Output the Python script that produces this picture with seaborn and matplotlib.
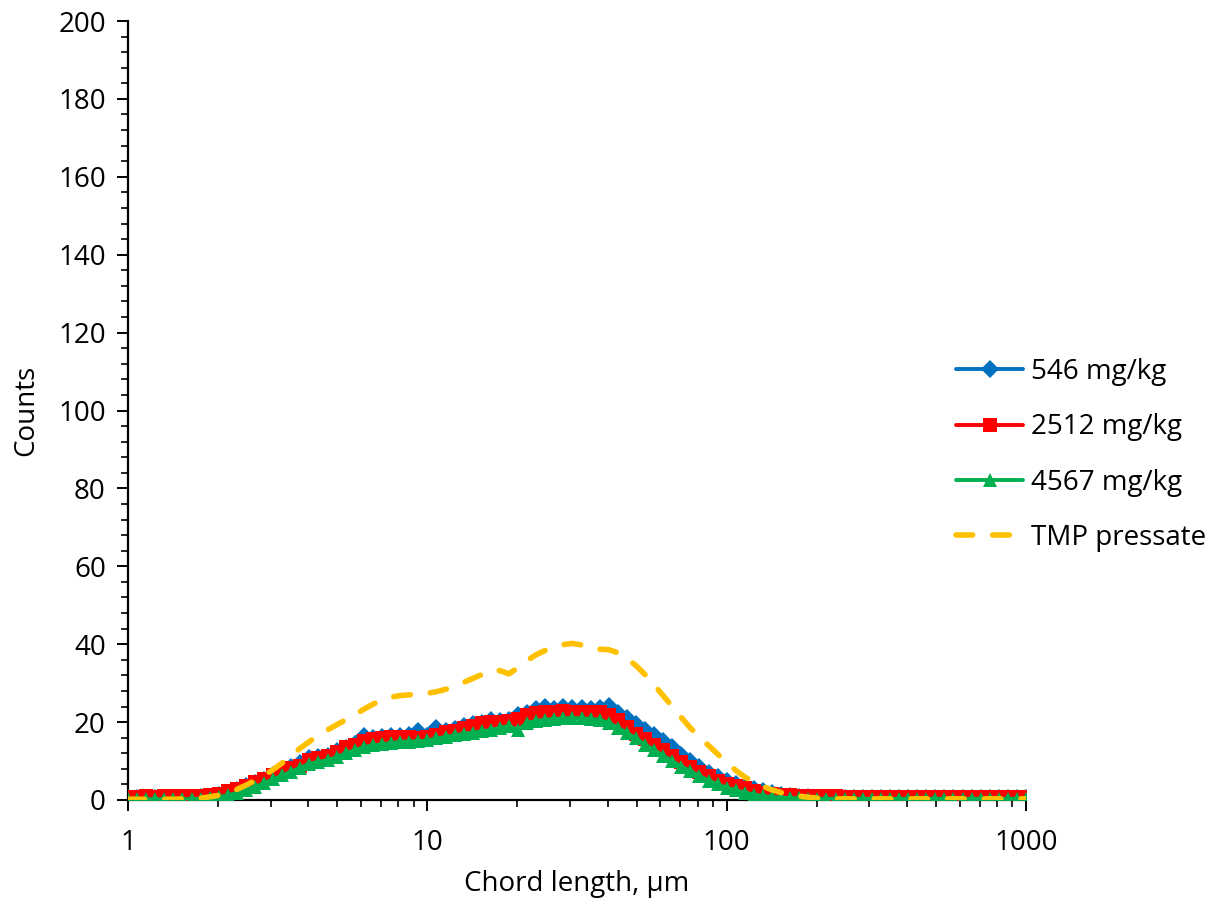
import matplotlib
matplotlib.use("Agg")
import matplotlib.pyplot as plt
from matplotlib.ticker import FixedLocator, MultipleLocator, NullFormatter
import pandas as pd
import seaborn as sns

# Chord-length channels (µm), logarithmically spaced, 33 per decade
chord_um = [
    1.000, 1.072, 1.150, 1.233, 1.322, 1.418, 1.520, 1.630, 1.748, 1.874,
    2.009, 2.154, 2.310, 2.477, 2.656, 2.848, 3.054, 3.275, 3.511, 3.765,
    4.037, 4.329, 4.642, 4.977, 5.337, 5.722, 6.136, 6.579, 7.055, 7.565,
    8.111, 8.697, 9.326, 10.00, 10.72, 11.50, 12.33, 13.22, 14.18, 15.20,
    16.30, 17.48, 18.74, 20.09, 21.54, 23.10, 24.77, 26.56, 28.48, 30.54,
    32.75, 35.11, 37.65, 40.37, 43.29, 46.42, 49.77, 53.37, 57.22, 61.36,
    65.79, 70.55, 75.65, 81.11, 86.97, 93.26, 100.0, 107.2, 115.0, 123.3,
    132.2, 141.8, 152.0, 163.0, 174.8, 187.4, 200.9, 215.4, 231.0, 247.7,
    265.6, 284.8, 305.4, 327.5, 351.1, 376.5, 403.7, 432.9, 464.2, 497.7,
    533.7, 572.2, 613.6, 657.9, 705.5, 756.5, 811.1, 869.7, 932.6, 1000.0,
]

counts_546 = [
    0.5, 0.5, 0.5, 0.5, 0.5, 0.5, 0.6, 0.6, 0.7, 0.8,
    1.2, 1.9, 2.6, 3.5, 4.4, 5.2, 6.4, 7.5, 8.6, 9.6,
    10.8, 11.0, 11.4, 12.6, 13.4, 14.3, 16.5, 15.8, 16.2, 16.4,
    16.4, 16.6, 17.8, 16.5, 18.4, 17.6, 18.2, 19.0, 19.4, 19.8,
    20.5, 20.4, 20.6, 21.8, 22.4, 23.4, 23.8, 23.4, 23.8, 23.5,
    23.7, 23.4, 23.6, 24.2, 22.4, 21.0, 19.4, 18.0, 16.8, 15.2,
    13.6, 11.6, 10.0, 8.4, 7.0, 6.0, 5.0, 4.2, 3.4, 2.8,
    2.2, 1.7, 1.3, 1.0, 0.8, 0.7, 0.6, 0.5, 0.5, 0.5,
    0.5, 0.5, 0.5, 0.5, 0.5, 0.5, 0.5, 0.5, 0.5, 0.5,
    0.5, 0.5, 0.5, 0.5, 0.5, 0.5, 0.5, 0.5, 0.5, 0.5,
]

counts_2512 = [
    0.8, 0.8, 0.9, 0.8, 0.9, 0.9, 1.0, 1.0, 1.1, 1.2,
    1.6, 2.2, 2.8, 3.7, 4.5, 5.3, 6.3, 7.3, 8.3, 8.8,
    10.2, 10.9, 11.2, 12.3, 13.6, 14.1, 15.2, 15.6, 16.0, 16.3,
    16.2, 16.1, 16.0, 16.3, 16.6, 17.4, 17.8, 18.5, 19.0, 19.7,
    20.0, 20.0, 20.3, 20.8, 21.8, 22.3, 22.6, 22.7, 22.8, 22.6,
    22.7, 22.6, 22.5, 21.8, 20.6, 18.8, 17.0, 15.6, 14.0, 12.8,
    11.3, 9.8, 8.6, 7.2, 6.2, 5.0, 4.2, 3.6, 3.0, 2.4,
    1.9, 1.6, 1.3, 1.2, 1.1, 1.0, 0.9, 0.9, 0.9, 0.8,
    0.8, 0.8, 0.8, 0.8, 0.8, 0.8, 0.8, 0.8, 0.8, 0.8,
    0.8, 0.8, 0.8, 0.8, 0.8, 0.8, 0.8, 0.8, 0.8, 0.8,
]

counts_4567 = [
    0.2, 0.2, 0.2, 0.2, 0.2, 0.2, 0.2, 0.3, 0.3, 0.4,
    0.7, 1.2, 1.8, 2.6, 3.4, 4.3, 5.3, 6.3, 7.3, 8.3,
    9.3, 9.8, 10.2, 11.0, 12.0, 12.8, 13.6, 14.0, 14.3, 14.6,
    15.0, 15.0, 15.1, 15.3, 15.8, 16.2, 16.6, 17.0, 17.3, 17.6,
    18.0, 18.5, 19.0, 18.0, 19.8, 20.3, 20.6, 20.8, 21.0, 21.0,
    21.0, 20.8, 20.6, 19.8, 18.6, 17.2, 15.8, 14.2, 12.8, 11.4,
    10.0, 8.6, 7.4, 6.2, 5.0, 4.0, 3.2, 2.5, 1.9, 1.4,
    1.0, 0.8, 0.6, 0.5, 0.4, 0.3, 0.3, 0.3, 0.3, 0.3,
    0.3, 0.3, 0.3, 0.3, 0.3, 0.3, 0.3, 0.3, 0.3, 0.3,
    0.3, 0.3, 0.3, 0.3, 0.3, 0.3, 0.3, 0.3, 0.3, 0.3,
]

counts_tmp = [
    0.2, 0.2, 0.2, 0.2, 0.2, 0.2, 0.3, 0.3, 0.5, 0.8,
    1.2, 1.8, 2.7, 3.8, 5.0, 6.3, 7.8, 9.5, 11.5, 13.3,
    15.0, 16.6, 18.0, 19.3, 20.6, 21.9, 23.3, 24.6, 25.7, 26.4,
    26.8, 27.0, 27.2, 27.4, 27.8, 28.4, 29.2, 30.2, 31.2, 32.2,
    33.3, 33.2, 32.4, 34.0, 35.8, 37.3, 38.4, 39.3, 39.9, 40.2,
    39.8, 39.0, 38.7, 38.6, 37.8, 36.4, 34.5, 32.2, 29.6, 26.8,
    24.0, 21.2, 18.5, 16.2, 14.0, 11.8, 9.6, 7.6, 5.9, 4.6,
    3.5, 2.6, 1.9, 1.4, 1.0, 0.7, 0.5, 0.4, 0.3, 0.3,
    0.3, 0.3, 0.3, 0.3, 0.3, 0.3, 0.3, 0.3, 0.3, 0.3,
    0.3, 0.3, 0.3, 0.3, 0.3, 0.3, 0.3, 0.3, 0.3, 0.3,
]

series_labels = ["546 mg/kg", "2512 mg/kg", "4567 mg/kg", "TMP pressate"]
series_counts = [counts_546, counts_2512, counts_4567, counts_tmp]
series_colors = ["#0070C0", "#FF0000", "#00B050", "#FFC000"]
series_markers = ["D", "s", "^", None]

x_ticks = [1, 10, 100, 1000]
y_max = 200

sns.set_theme(style="white")
plt.rcParams["font.family"] = ["Open Sans", "DejaVu Sans"]
FS = 20

df = pd.DataFrame({"chord": chord_um})
for lab, vals in zip(series_labels, series_counts):
    df[lab] = vals

fig = plt.figure(figsize=(12.14, 9.01), dpi=100)
ax = fig.add_axes([128 / 1214, 101 / 901, (1026 - 128) / 1214, (800 - 21) / 901])

for lab, col, mk in zip(series_labels, series_colors, series_markers):
    if mk is None:
        sns.lineplot(data=df, x="chord", y=lab, ax=ax, color=col, linewidth=4.0,
                     label=lab, zorder=5)
        ax.lines[-1].set_dashes([3.0, 3.6])
        ax.lines[-1].set_dash_capstyle("round")
    else:
        sns.lineplot(data=df, x="chord", y=lab, ax=ax, color=col, linewidth=2.8,
                     marker=mk, markersize=9.5, markeredgewidth=0,
                     markeredgecolor=col, label=lab, zorder=3)

ax.set_xscale("log")
ax.set_xlim(1, 1000)
ax.set_ylim(0, y_max)
ax.xaxis.set_major_locator(FixedLocator(x_ticks))
ax.set_xticklabels([str(t) for t in x_ticks])
ax.xaxis.set_minor_locator(FixedLocator(
    [m * d for d in (1, 10, 100) for m in range(2, 10)]))
ax.xaxis.set_minor_formatter(NullFormatter())
ax.yaxis.set_major_locator(MultipleLocator(20))
ax.yaxis.set_minor_locator(MultipleLocator(4))

for side in ("top", "right"):
    ax.spines[side].set_visible(False)
for side in ("left", "bottom"):
    ax.spines[side].set_color("black")
    ax.spines[side].set_linewidth(1.6)

ax.tick_params(axis="both", which="major", direction="out", length=8,
               width=1.4, color="black", labelsize=FS, labelcolor="black",
               bottom=True, left=True, pad=8)
ax.tick_params(axis="both", which="minor", direction="out", length=5,
               width=1.2, color="black", bottom=True, left=True)
ax.tick_params(axis="x", which="major", pad=13)

ax.set_xlabel("Chord length, µm", fontsize=FS, color="black", labelpad=9)
ax.set_ylabel("Counts", fontsize=FS, color="black", labelpad=13)
ax.grid(False)

leg = ax.legend(loc="center left", bbox_to_anchor=(937 / 1214, (901 - 455) / 901),
                bbox_transform=fig.transFigure, frameon=False, fontsize=FS,
                handlelength=2.4, handletextpad=0.3, labelspacing=0.98,
                borderpad=0.2)
for t in leg.get_texts():
    t.set_color("black")

fig.savefig("out.png", dpi=100, facecolor="white")
